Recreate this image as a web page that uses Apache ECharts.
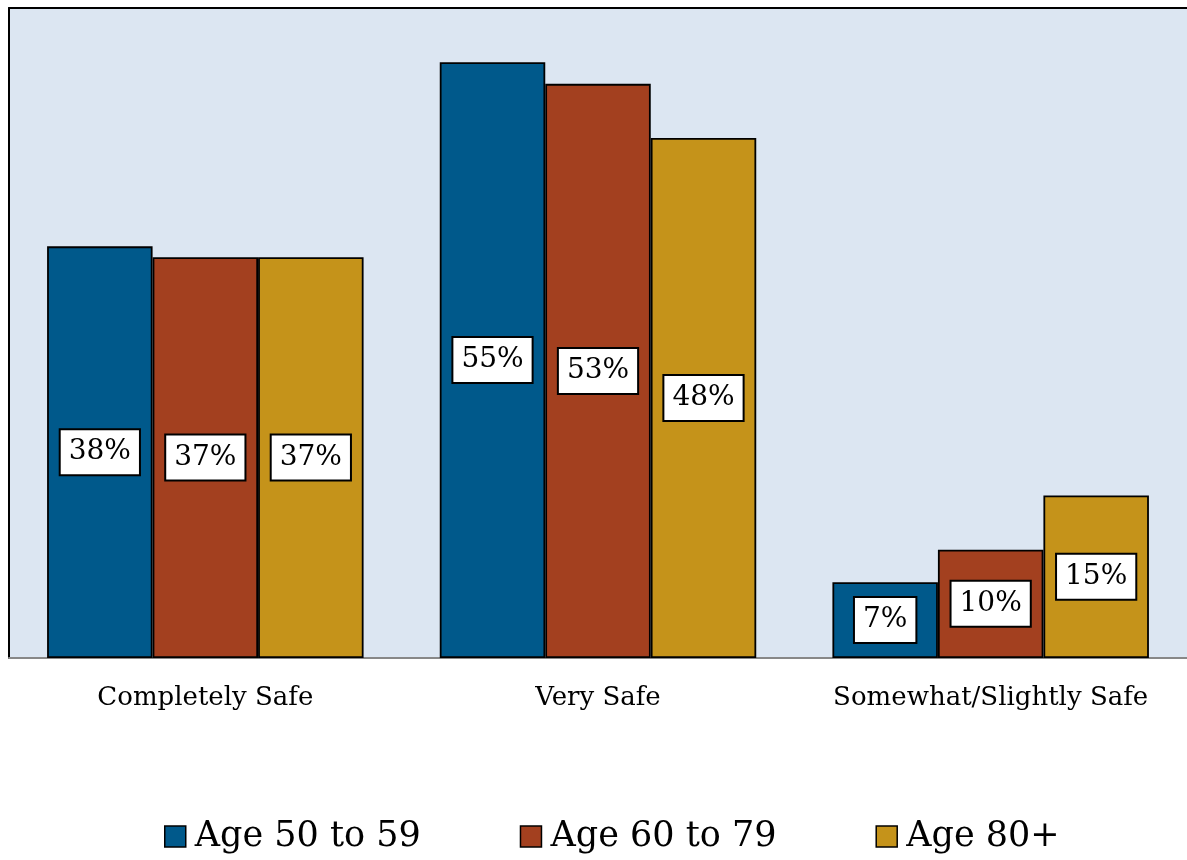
<!DOCTYPE html>
<html>
<head>
<meta charset="UTF-8">
<title>Safety by age</title>
<script src="https://cdn.jsdelivr.net/npm/echarts@6/dist/echarts.min.js"></script>
</head>
<body style="margin:0; background:#fff;">
<div id="main" style="width:1187px;height:860px;"></div>
<script>
var categories = ['Completely Safe', 'Very Safe', 'Somewhat/Slightly Safe'];
var age50to59 = [38, 55, 7];
var age60to79 = [37, 53, 10];
var age80plus = [37, 48, 15];
var seriesNames = ['Age 50 to 59', 'Age 60 to 79', 'Age 80+'];
var colors = ['#00598b', '#a3401f', '#c5931a'];

var serif = 'DejaVu Serif';
var myChart = echarts.init(document.getElementById('main'));

function bar(name, data, color) {
    return {
        name: name,
        type: 'bar',
        data: data,
        barGap: '0%',
        barCategoryGap: '19.4%',
        itemStyle: { color: color, borderColor: '#000', borderWidth: 1.8 },
        label: {
            show: true,
            position: 'inside',
            formatter: '{c}%',
            fontFamily: serif,
            fontSize: 28,
            color: '#000',
            backgroundColor: '#fff',
            borderColor: '#000',
            borderWidth: 2,
            padding: [9, 8, 7, 8]
        }
    };
}

var option = {
    animation: false,
    color: colors,
    grid: {
        left: 9, right: 0, top: 8, bottom: 202,
        show: true, backgroundColor: '#dce6f2', borderWidth: 0
    },
    legend: {
        bottom: 1,
        left: 159,
        itemWidth: 21,
        itemHeight: 21,
        itemGap: 99,
        icon: 'rect',
        itemStyle: { borderColor: '#000', borderWidth: 1.5 },
        textStyle: { fontFamily: serif, fontSize: 35, color: '#000', padding: [0, 0, 0, 4] },
        data: seriesNames
    },
    xAxis: [{
        type: 'category',
        data: categories,
        axisLine: { lineStyle: { color: '#888', width: 2 } },
        axisTick: { show: false },
        axisLabel: { interval: 0, fontFamily: serif, fontSize: 26, color: '#000', margin: 27 }
    }, {
        type: 'category',
        position: 'top',
        data: categories,
        axisLine: { lineStyle: { color: '#000', width: 2 } },
        axisTick: { show: false },
        axisLabel: { show: false }
    }],
    yAxis: {
        type: 'value',
        min: 0,
        max: 60,
        axisLine: { show: true, lineStyle: { color: '#000', width: 2 } },
        axisTick: { show: false },
        axisLabel: { show: false },
        splitLine: { show: false }
    },
    series: [
        bar(seriesNames[0], age50to59, colors[0]),
        bar(seriesNames[1], age60to79, colors[1]),
        bar(seriesNames[2], age80plus, colors[2])
    ]
};
myChart.setOption(option);
</script>
</body>
</html>
